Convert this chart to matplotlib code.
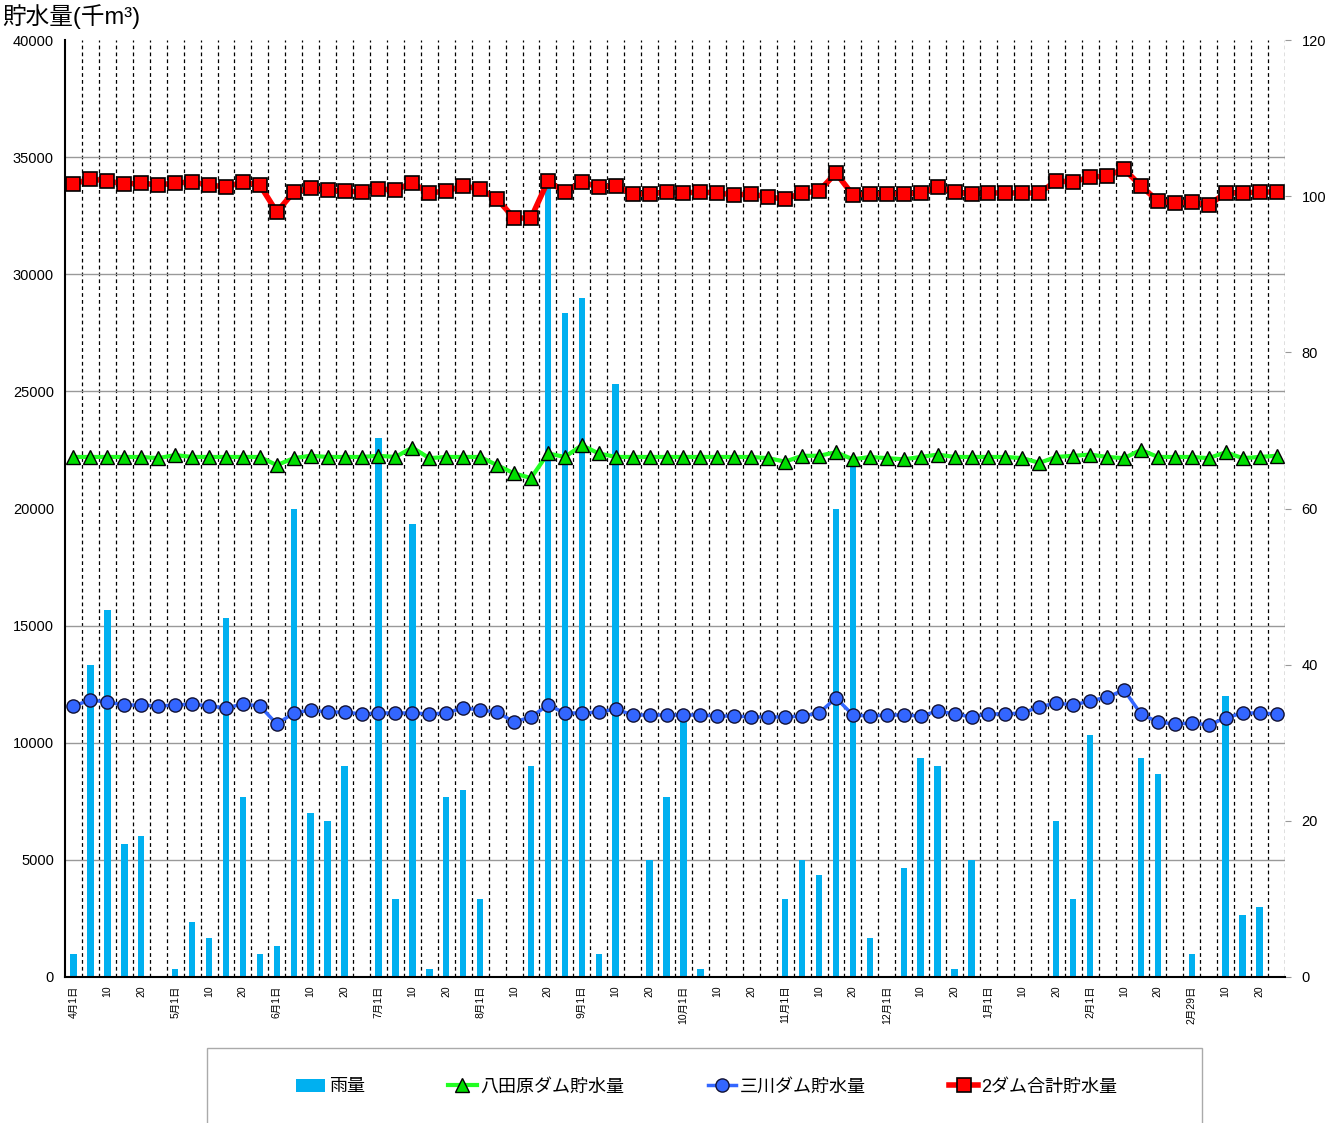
import matplotlib
matplotlib.use("Agg")
import matplotlib.pyplot as plt
from matplotlib.patches import Rectangle
from matplotlib.ticker import MultipleLocator, FixedLocator
import numpy as np

plt.rcParams['font.family'] = ['Liberation Sans', 'Noto Sans CJK JP', 'DejaVu Sans']

# ---------------- data ----------------
x_labels = [
    "4月1日", "", "10", "", "20", "",
    "5月1日", "", "10", "", "20", "",
    "6月1日", "", "10", "", "20", "",
    "7月1日", "", "10", "", "20", "",
    "8月1日", "", "10", "", "20", "",
    "9月1日", "", "10", "", "20", "",
    "10月1日", "", "10", "", "20", "",
    "11月1日", "", "10", "", "20", "",
    "12月1日", "", "10", "", "20", "",
    "1月1日", "", "10", "", "20", "",
    "2月1日", "", "10", "", "20", "",
    "2月29日", "", "10", "", "20", "",
]

rain = [3, 40, 47, 17, 18, 0, 1, 7, 5, 46, 23, 3,
        4, 60, 21, 20, 27, 0, 69, 10, 58, 1, 23, 24,
        10, 0, 0, 27, 101, 85, 87, 3, 76, 0, 15, 23,
        34, 1, 0, 0, 0, 0, 10, 15, 13, 60, 66, 5,
        0, 14, 28, 27, 1, 15, 0, 0, 0, 0, 20, 10,
        31, 0, 0, 28, 26, 0, 3, 0, 36, 8, 9, 0]

hattabara = [22200, 22200, 22200, 22200, 22200, 22150, 22280, 22200, 22200, 22200, 22200, 22200,
             21850, 22150, 22250, 22200, 22200, 22200, 22250, 22200, 22600, 22150, 22200, 22200,
             22200, 21850, 21500, 21300, 22350, 22200, 22700, 22350, 22200, 22200, 22200, 22200,
             22200, 22200, 22200, 22200, 22200, 22150, 22000, 22250, 22250, 22400, 22100, 22200,
             22150, 22100, 22200, 22300, 22200, 22200, 22200, 22200, 22150, 21950, 22200, 22250,
             22300, 22200, 22150, 22500, 22200, 22200, 22200, 22150, 22400, 22150, 22200, 22250]

mikawa = [11570, 11825, 11740, 11610, 11610, 11570, 11610, 11650, 11570, 11485, 11650, 11570,
          10800, 11270, 11400, 11310, 11310, 11230, 11270, 11270, 11270, 11230, 11270, 11485,
          11400, 11310, 10885, 11100, 11610, 11270, 11270, 11310, 11440, 11185, 11185, 11185,
          11185, 11185, 11140, 11140, 11100, 11100, 11100, 11140, 11270, 11910, 11185, 11140,
          11185, 11185, 11140, 11355, 11230, 11100, 11230, 11230, 11270, 11525, 11700, 11610,
          11780, 11950, 12250, 11230, 10885, 10800, 10840, 10760, 11060, 11270, 11270, 11230]

total = [33853, 34067, 33981, 33853, 33896, 33810, 33896, 33939, 33810, 33725, 33939, 33810,
         32657, 33511, 33682, 33597, 33554, 33511, 33639, 33597, 33896, 33469, 33554, 33768,
         33639, 33212, 32400, 32400, 33981, 33511, 33939, 33725, 33768, 33426, 33426, 33511,
         33469, 33511, 33469, 33383, 33426, 33298, 33212, 33469, 33554, 34322, 33383, 33426,
         33426, 33426, 33469, 33725, 33511, 33426, 33469, 33469, 33469, 33469, 33981, 33939,
         34152, 34195, 34494, 33768, 33127, 33042, 33084, 32956, 33469, 33469, 33511, 33511]

legend_labels = ["雨量", "八田原ダム貯水量", "三川ダム貯水量", "2ダム合計貯水量"]
title_text = "貯水量(千m³)"

# ---------------- figure ----------------
W, H = 1340, 1123
fig = plt.figure(figsize=(W / 100, H / 100), dpi=100)
L, R, T, B = 65, 1285, 40, 977
axr = fig.add_axes([L / W, 1 - B / H, (R - L) / W, (B - T) / H])  # rain (right axis)
axs = axr.twinx()  # storage (left axis), drawn on top

x = np.arange(len(x_labels))

# rain bars
axr.set_axisbelow(True)
bars = axr.bar(x, rain, width=0.38, color='#00B0F0', zorder=2)
axr.set_ylim(0, 120)
axr.set_xlim(-0.5, len(x_labels) - 0.5)
axr.yaxis.tick_right()
axr.yaxis.set_major_locator(MultipleLocator(20))
axr.tick_params(axis='y', which='major', length=4, color='#999999', labelsize=10.5, pad=8)
axr.yaxis.set_minor_locator(MultipleLocator(15))
axr.tick_params(axis='y', which='minor', length=0)
axr.grid(True, axis='y', which='minor', color='#999999', lw=1, zorder=0)
axr.xaxis.set_minor_locator(FixedLocator(np.arange(0.5, len(x_labels), 1.0)))
axr.grid(True, axis='x', which='minor', color='black', lw=0.9, linestyle=(0, (3, 2.5)), zorder=0)
axr.set_xticks(x)
axr.set_xticklabels(x_labels, rotation=90, fontsize=7.5, va='top', ha='center')
axr.tick_params(axis='x', which='both', length=0, pad=6)
for s in ['top', 'left', 'right']:
    axr.spines[s].set_visible(False)
axr.spines['bottom'].set_color('black')
axr.spines['bottom'].set_linewidth(1.5)

# storage lines
axs.set_ylim(0, 40000)
axs.yaxis.tick_left()
axs.yaxis.set_major_locator(MultipleLocator(5000))
axs.tick_params(axis='y', length=0, labelsize=10.5, pad=8)
axs.patch.set_visible(False)
for s in ['top', 'right', 'bottom']:
    axs.spines[s].set_visible(False)
axs.spines['left'].set_visible(True)
axs.spines['left'].set_color('black')
axs.spines['left'].set_linewidth(1.5)

lg, = axs.plot(x, hattabara, color='#22FF22', lw=3, marker='^', ms=10,
               markerfacecolor='#00DD00', markeredgecolor='black', markeredgewidth=1, zorder=3)
lb, = axs.plot(x, mikawa, color='#3366FF', lw=2.5, marker='o', ms=9.5,
               markerfacecolor='#3366FF', markeredgecolor='#111133', markeredgewidth=1, zorder=3)
lr, = axs.plot(x, total, color='#FF0000', lw=4, marker='s', ms=10,
               markerfacecolor='#FF0000', markeredgecolor='black', markeredgewidth=1.2, zorder=4)

# title
fig.text(2 / W, 1 - 17 / H, title_text, fontsize=17, ha='left', va='center')

# legend box
fig.patches.append(Rectangle((207 / W, -0.02), 995 / W, 0.0668 + 0.02, transform=fig.transFigure,
                             fill=False, edgecolor='#aaaaaa', lw=1))
fig.legend([bars, lg, lb, lr], legend_labels, loc='center', bbox_to_anchor=(707 / W, 1 - 1087 / H),
           ncol=4, frameon=False, fontsize=13, columnspacing=4.6, handlelength=1.6,
           handletextpad=0.2)

fig.savefig("out.png", dpi=100)
